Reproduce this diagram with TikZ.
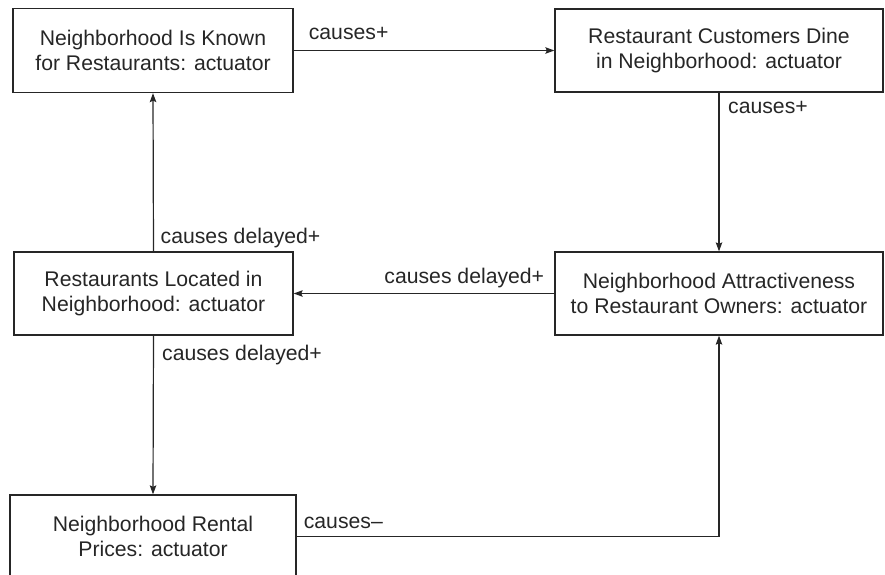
\documentclass[tikz,border=0pt]{standalone}
\usepackage{fontspec}
\setmainfont{Liberation Sans}
\usetikzlibrary{arrows.meta,calc}
\definecolor{ink}{HTML}{262626}
\tikzset{
  factor/.style={draw=ink, line width=1.3pt, rectangle, inner sep=0pt,
    align=center, text=ink, minimum height=83pt},
  link/.style={draw=ink, line width=1.2pt, -{Stealth[length=9pt,width=6.5pt,inset=1.5pt]}},
  tag/.style={text=ink, inner sep=0pt},
  every node/.style={font=\fontsize{21.2}{25.5}\selectfont}
}
\begin{document}
\begin{tikzpicture}[x=1pt,y=-1pt]
\useasboundingbox (0,0) rectangle (885,574);
\clip (0,0) rectangle (885,574);

% causal factors
\node[factor, minimum width=280pt, minimum height=84pt] (known) at (153,50.5)
  {Neighborhood Is Known\\for Restaurants: actuator};
\node[factor, minimum width=328pt] (dine) at (719,50.5)
  {Restaurant Customers Dine\\in Neighborhood: actuator};
\node[factor, minimum width=279pt] (located) at (153.5,293.5)
  {Restaurants Located in\\Neighborhood: actuator};
\node[factor, minimum width=328pt] (attract) at (719,293.5)
  {Neighborhood Attractiveness\\to Restaurant Owners: actuator};
\node[factor, minimum width=286pt] (rental) at (153,536.5)
  {Neighborhood Rental\\Prices: actuator};

% causal links
\draw[link] (known.east) -- (dine.west);
\draw[link] (dine.south) -- (attract.north);
\draw[link] (attract.west) -- (located.east);
\draw[link] (located.north) -- (known.south);
\draw[link] (located.south) -- (rental.north);
\draw[link] (rental.east) -| (attract.south);

% link labels
\node[tag, anchor=base west] (l1) at ($(known.east)+(15,-11)$) {causes+};
\node[tag, anchor=base west] (l2) at ($(dine.south)+(9,21)$) {causes+};
\node[tag, anchor=base east] (l3) at ($(attract.west)+(-10,-10.5)$) {causes delayed+};
\node[tag, anchor=base west] (l4) at ($(located.north)+(7,-8)$) {causes delayed+};
\node[tag, anchor=base west] (l5) at ($(located.south)+(8.5,25)$) {causes delayed+};
\node[tag, anchor=base west] (l6) at ($(rental.east)+(7,-8.5)$) {causes–};
\end{tikzpicture}
\end{document}
